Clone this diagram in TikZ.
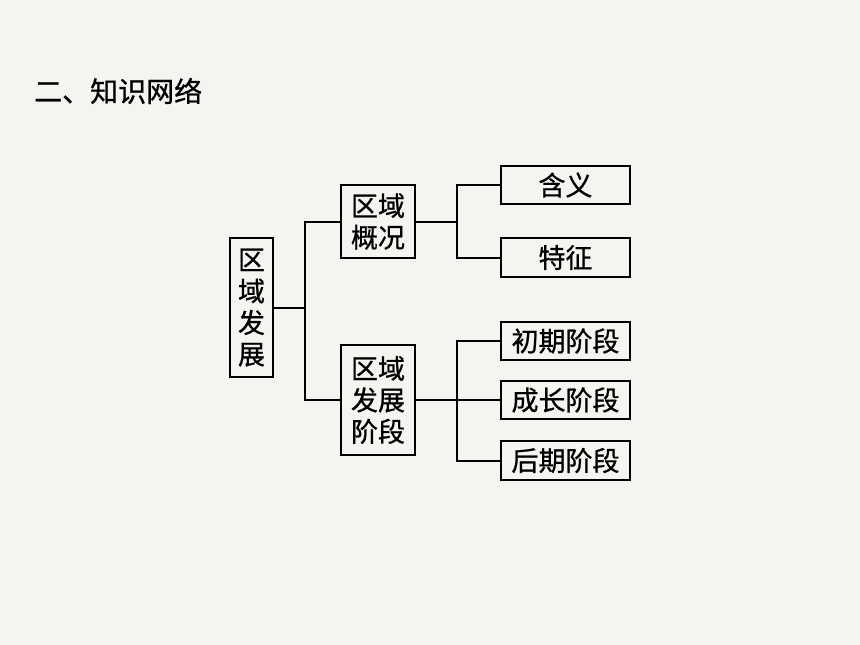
\documentclass[tikz,border=0pt]{standalone}
\usepackage{fontspec}
\newfontfamily\cjk{Noto Sans CJK SC}[FakeBold=0.8]
\definecolor{bgc}{HTML}{F3F5F0}
\begin{document}
\begin{tikzpicture}[x=1pt,y=-1pt,
  box/.style={draw=black,line width=2pt,inner sep=0pt,align=center,
    font=\cjk\fontsize{27}{31.5}\selectfont},
  conn/.style={line width=2pt}]
\fill[bgc] (0,0) rectangle (860,645);
\useasboundingbox (0,0) rectangle (860,645);
\node[anchor=west,inner sep=0pt,font=\cjk\fontsize{28}{31}\selectfont] (title) at (34,91) {二、知识网络};
\node[box,minimum width=43pt,minimum height=139pt] (root) at (251.5,307.5) {区\\域\\发\\展};
\node[box,minimum width=74pt,minimum height=73pt] (gk) at (378,221.5) {区域\\概况};
\node[box,minimum width=74pt,minimum height=110pt] (fz) at (378,400) {区域\\发展\\阶段};
\node[box,minimum width=129pt,minimum height=38.5pt] (hy) at (565.5,185) {含义};
\node[box,minimum width=129pt,minimum height=38.5pt] (tz) at (565.5,257.5) {特征};
\node[box,minimum width=129pt,minimum height=38.5pt] (cq) at (565.5,341) {初期阶段};
\node[box,minimum width=129pt,minimum height=38.5pt] (cz) at (565.5,400) {成长阶段};
\node[box,minimum width=129pt,minimum height=38.5pt] (hq) at (565.5,460.5) {后期阶段};
\coordinate (j1) at (305,307.5);
\coordinate (j2) at (457,221.5);
\coordinate (j3) at (457,400);
\draw[conn] (root.east) -- (j1);
\draw[conn] (gk.west) -| (j1) |- (fz.west);
\draw[conn] (gk.east) -- (j2);
\draw[conn] (hy.west) -| (j2) |- (tz.west);
\draw[conn] (fz.east) -- (j3);
\draw[conn] (cq.west) -| (j3) |- (hq.west);
\draw[conn] (j3) -- (cz.west);
\end{tikzpicture}
\end{document}
